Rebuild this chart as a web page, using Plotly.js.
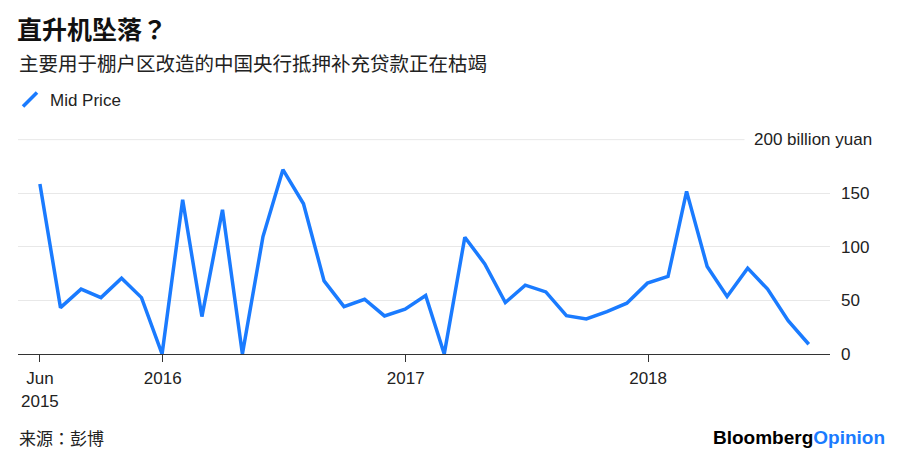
<!DOCTYPE html>
<html>
<head>
<meta charset="utf-8">
<script src="https://cdn.plot.ly/plotly-3.0.1.min.js"></script>
<style>html,body{margin:0;padding:0;background:#fff;}#chart{width:900px;height:452px;}</style>
</head>
<body>
<div id="chart"></div>
<script>
// Monthly observations (month-end), June 2015 – August 2018
const months = [
  "2015-06","2015-07","2015-08","2015-09","2015-10","2015-11","2015-12",
  "2016-01","2016-02","2016-03","2016-04","2016-05","2016-06","2016-07","2016-08","2016-09","2016-10","2016-11","2016-12",
  "2017-01","2017-02","2017-03","2017-04","2017-05","2017-06","2017-07","2017-08","2017-09","2017-10","2017-11","2017-12",
  "2018-01","2018-02","2018-03","2018-04","2018-05","2018-06","2018-07","2018-08"
];
// PSL net injection, billion yuan
const midPrice = [
  158.6, 43.3, 60.5, 52.6, 70.7, 52.6, 0,
  143.9, 34.9, 134.6, 0, 109.6, 172.0, 140.2, 68.2, 44.2, 51.1, 35.5, 41.8,
  54.5, 0, 109.0, 84.1, 48.0, 64.2, 57.9, 35.8, 32.7, 39.6, 47.4, 66.1,
  72.3, 151.7, 81.6, 53.6, 80.1, 60.5, 31.1, 9.1
];
const xTickVals = ["2015-06-30", "2016-01-01", "2017-01-01", "2018-01-01"];
const xTickText = ["Jun<br>2015", "2016", "2017", "2018"];
const yTickVals = [0, 50, 100, 150, 200];
const yTickText = ["0", "50", "100", "150", ""];
const yTopValue = 200;
const yTopLabel = "200 billion yuan";
const seriesName = "Mid Price";

function monthEnd(m) {
  const [y, mo] = m.split("-").map(Number);
  const d = new Date(Date.UTC(y, mo, 0));
  return d.toISOString().slice(0, 10);
}
const dates = months.map(monthEnd);

const BLUE = "#1a7bff";
const GRID = "#e8e8e8";
const FONT = "Liberation Sans, Arial, Noto Sans CJK SC, sans-serif";
const CJK = "Noto Sans CJK SC, Liberation Sans, sans-serif";
const PUNCT = "font-family:'Noto Sans CJK TC'";
const W = 900, H = 452;
const M = {l: 18, r: 70, t: 139, b: 98};

const traces = [
  {
    x: dates, y: midPrice, type: "scatter", mode: "lines",
    line: {color: BLUE, width: 3.5, shape: "linear"},
    showlegend: false, name: seriesName, hoverinfo: "x+y"
  },
  {
    x: [null], y: [null], type: "scatter", mode: "markers", name: seriesName,
    marker: {symbol: "line-ne", size: 14, color: BLUE, line: {color: BLUE, width: 3.5}},
    showlegend: true, hoverinfo: "skip"
  }
];

const layout = {
  width: W, height: H,
  paper_bgcolor: "#fff", plot_bgcolor: "#fff",
  margin: {l: M.l, r: M.r, t: M.t, b: M.b, autoexpand: false},
  font: {family: FONT, size: 17, color: "#222"},
  title: {
    text: "<b>直升机坠落<span style=\"" + PUNCT + "\">？</span></b>",
    font: {family: CJK, size: 25, color: "#111"},
    x: 17 / W, xref: "container", xanchor: "left",
    y: 1 - 30 / H, yref: "container", yanchor: "middle"
  },
  showlegend: true,
  legend: {
    x: 10 / W, xref: "container", xanchor: "left",
    y: 1 - 100 / H, yref: "container", yanchor: "middle",
    font: {family: FONT, size: 17, color: "#222"},
    bgcolor: "rgba(0,0,0,0)", borderwidth: 0
  },
  xaxis: {
    type: "date",
    range: ["2015-05-28", "2018-10-02"],
    tickmode: "array", tickvals: xTickVals, ticktext: xTickText,
    ticks: "outside", ticklen: 7, tickwidth: 1, tickcolor: "#333",
    ticklabelstandoff: 2,
    showgrid: false, zeroline: false,
    showline: true, linecolor: "#333", linewidth: 1,
    tickfont: {family: FONT, size: 17, color: "#222"},
    fixedrange: true
  },
  yaxis: {
    range: [0, 200.6], side: "right",
    tickmode: "array", tickvals: yTickVals, ticktext: yTickText,
    ticks: "", ticklabelstandoff: 10,
    showgrid: true, gridcolor: GRID, gridwidth: 1,
    zeroline: false, showline: false,
    tickfont: {family: FONT, size: 17, color: "#222"},
    fixedrange: true
  },
  shapes: [
    {type: "line", xref: "paper", yref: "y", x0: 0, x1: 1, y0: yTopValue, y1: yTopValue,
     line: {color: GRID, width: 1}, layer: "below"}
  ],
  annotations: []
};

const plotW = W - M.l - M.r, plotH = H - M.t - M.b;
const bottomPx = H - M.b;
const px = (x) => (x - M.l) / plotW;        // pixel x -> paper
const py = (y) => (bottomPx - y) / plotH;   // pixel y -> paper

layout.annotations.push(
  {
    text: "主要用于棚户区改造的中国央行抵押补充贷款正在枯竭",
    xref: "paper", yref: "paper", x: px(17), y: py(63), showarrow: false,
    xanchor: "left", yanchor: "middle",
    font: {family: CJK, size: 19.5, color: "#222"}
  },
  {
    text: yTopLabel, xref: "paper", yref: "y",
    x: px(882), y: yTopValue, xanchor: "right", yanchor: "middle",
    showarrow: false, bgcolor: "#fff", borderpad: 9,
    font: {family: FONT, size: 17, color: "#222"}
  },
  {
    text: "来源<span style=\"" + PUNCT + "\">：</span>彭博", xref: "paper", yref: "paper",
    x: px(17), y: py(437), showarrow: false, xanchor: "left", yanchor: "middle",
    font: {family: CJK, size: 17, color: "#222"}
  },
  {
    text: "<b>Bloomberg<span style=\"color:" + BLUE + "\">Opinion</span></b>",
    xref: "paper", yref: "paper", x: px(887), y: py(437), showarrow: false,
    xanchor: "right", yanchor: "middle",
    font: {family: FONT, size: 19, color: "#000"}
  }
);

Plotly.newPlot("chart", traces, layout, {displayModeBar: false});
</script>
</body>
</html>
